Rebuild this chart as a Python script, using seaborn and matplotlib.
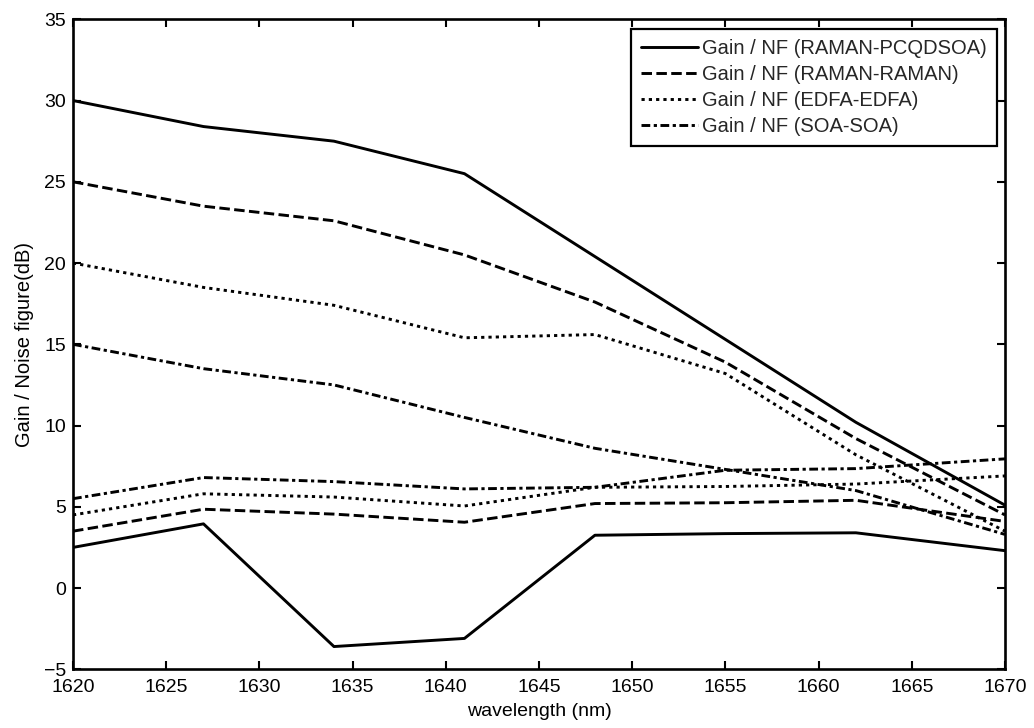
import numpy as np
import pandas as pd
import matplotlib
matplotlib.use("Agg")
import matplotlib.pyplot as plt
import seaborn as sns

# ---------------- data ----------------
wavelength = [1620, 1627, 1634, 1641, 1648, 1655, 1662, 1670]

configs = [
    "Gain / NF (RAMAN-PCQDSOA)",
    "Gain / NF (RAMAN-RAMAN)",
    "Gain / NF (EDFA-EDFA)",
    "Gain / NF (SOA-SOA)",
]

gain_raman_pcqdsoa = [30.0, 28.4, 27.5, 25.5, 20.4, 15.3, 10.2, 5.1]
gain_raman_raman = [25.0, 23.5, 22.6, 20.5, 17.6, 13.9, 9.2, 4.5]
gain_edfa_edfa = [20.0, 18.5, 17.4, 15.4, 15.6, 13.2, 8.2, 3.5]
gain_soa_soa = [15.0, 13.5, 12.5, 10.5, 8.6, 7.3, 6.0, 3.3]

nf_raman_pcqdsoa = [2.5, 3.95, -3.6, -3.1, 3.25, 3.35, 3.4, 2.3]
nf_raman_raman = [3.5, 4.85, 4.55, 4.05, 5.2, 5.25, 5.4, 4.1]
nf_edfa_edfa = [4.5, 5.8, 5.6, 5.05, 6.2, 6.25, 6.4, 6.9]
nf_soa_soa = [5.5, 6.8, 6.55, 6.1, 6.2, 7.25, 7.35, 7.95]

x_ticks = [1620, 1625, 1630, 1635, 1640, 1645, 1650, 1655, 1660, 1665, 1670]
y_ticks = [-5, 0, 5, 10, 15, 20, 25, 30, 35]

# ---------------- long table ----------------
series = {
    (configs[0], "Gain"): gain_raman_pcqdsoa,
    (configs[1], "Gain"): gain_raman_raman,
    (configs[2], "Gain"): gain_edfa_edfa,
    (configs[3], "Gain"): gain_soa_soa,
    (configs[0], "NF"): nf_raman_pcqdsoa,
    (configs[1], "NF"): nf_raman_raman,
    (configs[2], "NF"): nf_edfa_edfa,
    (configs[3], "NF"): nf_soa_soa,
}
rows = []
for (cfg, metric), vals in series.items():
    for w, v in zip(wavelength, vals):
        rows.append({"wavelength": w, "value": v, "config": cfg, "metric": metric})
df = pd.DataFrame(rows)

# ---------------- style ----------------
sns.set_theme(style="white")
plt.rcParams["font.family"] = ["Liberation Sans", "DejaVu Sans"]
plt.rcParams["axes.edgecolor"] = "black"
plt.rcParams["axes.linewidth"] = 1.9

fig = plt.figure(figsize=(10.34, 7.28), dpi=100)
ax = fig.add_axes([73 / 1034, 1 - 669.3 / 728, (1005 - 73) / 1034, (669.3 - 19.3) / 728])

dash_map = {
    configs[0]: "",
    configs[1]: (3.6, 1.5),
    configs[2]: (1.1, 1.4),
    configs[3]: (3.0, 1.2, 1.1, 1.2),
}

sns.lineplot(
    data=df, x="wavelength", y="value",
    style="config", style_order=configs, dashes=dash_map,
    units="metric", estimator=None, sort=False,
    color="black", linewidth=2.1, ax=ax, legend="full",
)

ax.set_xlim(1620, 1670)
ax.set_ylim(-5, 35)
ax.set_xticks(x_ticks)
ax.set_yticks(y_ticks)
ax.tick_params(axis="both", which="major", direction="in", length=5.5, width=1.5,
               top=True, right=True, bottom=True, left=True,
               labelsize=14, colors="black")
ax.tick_params(axis="x", pad=7)
ax.tick_params(axis="y", pad=5)
ax.set_xlabel("wavelength (nm)", fontsize=14, color="black", labelpad=5)
ax.set_ylabel("Gain / Noise figure(dB)", fontsize=14.5, color="black", labelpad=7)
ax.grid(False)
for s in ax.spines.values():
    s.set_color("black")
    s.set_linewidth(1.9)

handles, labels = ax.get_legend_handles_labels()
hl = [(h, l) for h, l in zip(handles, labels) if l in configs]
for h, _ in hl:
    h.set_linewidth(2.1)
    h.set_color("black")
leg = ax.legend(
    [h for h, _ in hl], [l for _, l in hl],
    loc="upper right", bbox_to_anchor=((997 - 73) / 932, (669.3 - 29) / 650),
    borderaxespad=0, fontsize=14.5, handlelength=2.85, handletextpad=0.2,
    labelspacing=0.35, borderpad=0.5, frameon=True, fancybox=False,
    framealpha=1, edgecolor="black",
)
leg.get_frame().set_linewidth(1.6)

fig.savefig("out.png", dpi=100, facecolor="white")
